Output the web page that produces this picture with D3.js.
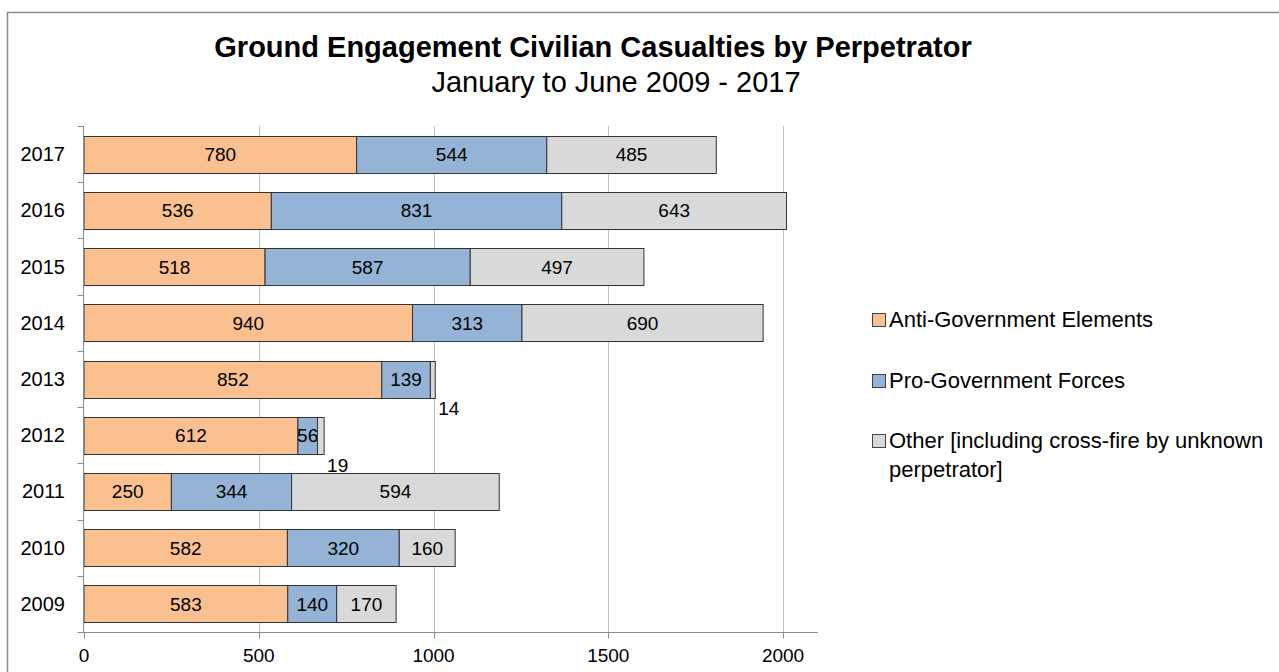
<!DOCTYPE html>
<head>
    <meta charset="utf-8">
    <script src="https://d3js.org/d3.v7.min.js"></script>
    <style>
        body {
            margin: 0;
            font-family: "Liberation Sans", Arial, sans-serif;
            background: white;
        }

        text {
            fill: black;
        }

        .grid-line {
            stroke: #bfbfbf;
            stroke-width: 1px;
        }

        .axis-line {
            stroke: #8c8c8c;
            stroke-width: 1px;
        }

        .bar {
            stroke: #333;
            stroke-width: 1px;
        }
    </style>
</head>

<body>
<script>
    var years = ["2017", "2016", "2015", "2014", "2013", "2012", "2011", "2010", "2009"];
    var antiGov = [780, 536, 518, 940, 852, 612, 250, 582, 583];
    var proGov = [544, 831, 587, 313, 139, 56, 344, 320, 140];
    var other = [485, 643, 497, 690, 14, 19, 594, 160, 170];
    var xTicks = [0, 500, 1000, 1500, 2000];

    var seriesNames = ["Anti-Government Elements", "Pro-Government Forces", "Other [including cross-fire by unknown perpetrator]"];
    var seriesColours = ["#fac090", "#95b3d7", "#d9d9d9"];

    var rows = years.map(function(y, i) {
        return {year: y, s0: antiGov[i], s1: proGov[i], s2: other[i]};
    });

    var W = 1279, H = 672;
    var plotTop = 126, plotBottom = 632, plotLeft = 84;

    var svg = d3.select("body").append("svg")
        .attr("width", W)
        .attr("height", H);

    // outer frame
    svg.append("rect")
        .attr("x", 7.5).attr("y", 12.5)
        .attr("width", W).attr("height", H)
        .attr("fill", "none")
        .attr("stroke", "#8c8c8c")
        .attr("stroke-width", 1.5);

    svg.append("text")
        .attr("x", 593).attr("y", 57)
        .attr("text-anchor", "middle")
        .style("font-size", "29px")
        .style("font-weight", "bold")
        .text("Ground Engagement Civilian Casualties by Perpetrator");

    svg.append("text")
        .attr("x", 616).attr("y", 92)
        .attr("text-anchor", "middle")
        .style("font-size", "29px")
        .text("January to June 2009 - 2017");

    var x = d3.scaleLinear()
        .domain([0, 2100])
        .range([plotLeft, plotLeft + 734]);

    var y = d3.scaleBand()
        .domain(years)
        .range([plotTop, plotBottom])
        .paddingInner(0.342)
        .paddingOuter(0.171);

    var g = svg.append("g");

    g.selectAll(".grid-line")
        .data(xTicks.slice(1))
        .enter().append("line")
        .attr("class", "grid-line")
        .attr("x1", function(d) { return Math.round(x(d)) + 0.5; })
        .attr("x2", function(d) { return Math.round(x(d)) + 0.5; })
        .attr("y1", plotTop)
        .attr("y2", plotBottom);

    var stack = d3.stack().keys(["s0", "s1", "s2"]);
    var layers = stack(rows);

    layers.forEach(function(layer, li) {
        var grp = g.append("g");
        grp.selectAll("rect")
            .data(layer)
            .enter().append("rect")
            .attr("class", "bar")
            .attr("fill", seriesColours[li])
            .attr("x", function(d) { return x(d[0]); })
            .attr("y", function(d) { return Math.round(y(d.data.year)) + 0.5; })
            .attr("width", function(d) { return x(d[1]) - x(d[0]); })
            .attr("height", Math.round(y.bandwidth()));

        // tiny segments get their label outside, below the bar end
        grp.selectAll("text")
            .data(layer)
            .enter().append("text")
            .attr("x", function(d) {
                var w = x(d[1]) - x(d[0]);
                return w < 15 ? x(d[1]) + 3 : (x(d[0]) + x(d[1])) / 2;
            })
            .attr("y", function(d) {
                var w = x(d[1]) - x(d[0]);
                var cy = y(d.data.year) + y.bandwidth() / 2;
                return w < 15 ? y(d.data.year) + y.bandwidth() + 18 : cy + 7;
            })
            .attr("text-anchor", function(d) {
                return (x(d[1]) - x(d[0])) < 15 ? "start" : "middle";
            })
            .style("font-size", "19px")
            .text(function(d) { return d[1] - d[0]; });
    });

    // y axis
    var yAxisX = plotLeft - 0.5;
    g.append("line")
        .attr("class", "axis-line")
        .attr("x1", yAxisX).attr("x2", yAxisX)
        .attr("y1", plotTop).attr("y2", plotBottom);

    var bounds = d3.range(years.length + 1).map(function(i) { return plotTop + i * y.step(); });
    g.selectAll(".ytick")
        .data(bounds)
        .enter().append("line")
        .attr("class", "axis-line")
        .attr("x1", yAxisX - 6).attr("x2", yAxisX)
        .attr("y1", function(d) { return Math.round(d) + 0.5; })
        .attr("y2", function(d) { return Math.round(d) + 0.5; });

    g.selectAll(".ylabel")
        .data(years)
        .enter().append("text")
        .attr("x", 65)
        .attr("y", function(d) { return y(d) + y.bandwidth() / 2 + 7; })
        .attr("text-anchor", "end")
        .style("font-size", "20px")
        .text(function(d) { return d; });

    // x axis
    var axisY = plotBottom + 0.5;
    g.append("line")
        .attr("class", "axis-line")
        .attr("x1", plotLeft - 6).attr("x2", x(2100))
        .attr("y1", axisY).attr("y2", axisY);

    g.selectAll(".xtick")
        .data(xTicks)
        .enter().append("line")
        .attr("class", "axis-line")
        .attr("x1", function(d) { return Math.round(x(d)) + 0.5; })
        .attr("x2", function(d) { return Math.round(x(d)) + 0.5; })
        .attr("y1", axisY).attr("y2", axisY + 6);

    g.selectAll(".xlabel")
        .data(xTicks)
        .enter().append("text")
        .attr("x", function(d) { return x(d); })
        .attr("y", 662)
        .attr("text-anchor", "middle")
        .style("font-size", "19px")
        .text(function(d) { return d; });

    // legend
    var legendY = [327, 388, 448];
    var legend = svg.append("g");
    seriesNames.forEach(function(name, i) {
        legend.append("rect")
            .attr("x", 872.5).attr("y", legendY[i] - 13.5)
            .attr("width", 13).attr("height", 13)
            .attr("fill", seriesColours[i])
            .attr("stroke", "#444");
        var t = legend.append("text")
            .attr("x", 889).attr("y", legendY[i])
            .style("font-size", "22px");
        if (i == 2) {
            t.append("tspan").attr("x", 889).text("Other [including cross-fire by unknown");
            t.append("tspan").attr("x", 889).attr("dy", 29).text("perpetrator]");
        } else {
            t.text(name);
        }
    });
</script>
</body>
</html>
